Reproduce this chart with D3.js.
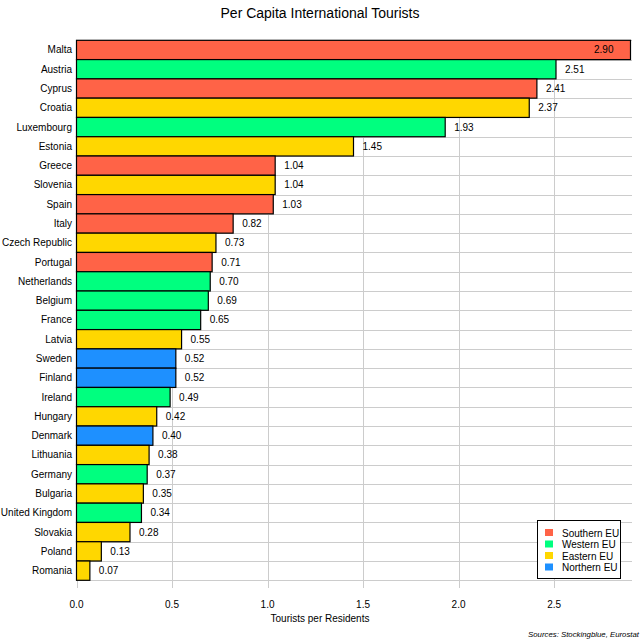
<!DOCTYPE html>
<html>
<head>
<title>per capita international tourists</title>
<style>
  body { margin: 0; background: #fff; }
  svg text { font-family: "Liberation Sans", Arial, sans-serif; fill: #000; }
</style>
</head>
<body>
<svg></svg>
<script src="https://d3js.org/d3.v7.min.js"></script>
<script>
    let width = 640, height = 640;
    let svg = d3.select("svg").attr("width", width).attr("height", height);

    // data
    let countries = ["Malta", "Austria", "Cyprus", "Croatia", "Luxembourg", "Estonia", "Greece", "Slovenia",
        "Spain", "Italy", "Czech Republic", "Portugal", "Netherlands", "Belgium", "France", "Latvia",
        "Sweden", "Finland", "Ireland", "Hungary", "Denmark", "Lithuania", "Germany", "Bulgaria",
        "United Kingdom", "Slovakia", "Poland", "Romania"];
    let values = [2.90, 2.51, 2.41, 2.37, 1.93, 1.45, 1.04, 1.04, 1.03, 0.82, 0.73, 0.71, 0.70, 0.69,
        0.65, 0.55, 0.52, 0.52, 0.49, 0.42, 0.40, 0.38, 0.37, 0.35, 0.34, 0.28, 0.13, 0.07];
    let regions = ["Southern EU", "Western EU", "Southern EU", "Eastern EU", "Western EU", "Eastern EU",
        "Southern EU", "Eastern EU", "Southern EU", "Southern EU", "Eastern EU", "Southern EU",
        "Western EU", "Western EU", "Western EU", "Eastern EU", "Northern EU", "Northern EU",
        "Western EU", "Eastern EU", "Northern EU", "Eastern EU", "Western EU", "Eastern EU",
        "Western EU", "Eastern EU", "Eastern EU", "Eastern EU"];
    let legendNames = ["Southern EU", "Western EU", "Eastern EU", "Northern EU"];
    let legendColors = ["#ff6347", "#00ff7f", "#ffd700", "#1e90ff"];
    let xTicks = [0, 0.5, 1, 1.5, 2, 2.5];

    let rows = countries.map((c, i) => ({ name: c, value: values[i], region: regions[i] }));

    let x = d3.scaleLinear().domain([0, 2.9]).range([76.5, 630.5]);
    let y = d3.scaleBand().domain(countries).range([40.3, 580.3]).padding(0);
    let color = d3.scaleOrdinal().domain(legendNames).range(legendColors);

    // title
    svg.append("text")
        .attr("x", 320).attr("y", 18)
        .attr("text-anchor", "middle")
        .style("font-size", "14px")
        .text("Per Capita International Tourists");

    // grid
    let grid = svg.append("g").attr("stroke", "#cccccc").attr("stroke-width", 1);
    grid.selectAll(".vline")
        .data(xTicks)
        .enter()
        .append("line")
        .attr("x1", d => Math.round(x(d)) + 0.5).attr("x2", d => Math.round(x(d)) + 0.5)
        .attr("y1", 40).attr("y2", 588);
    grid.selectAll(".hline")
        .data(d3.range(countries.length + 1))
        .enter()
        .append("line")
        .attr("x1", 76).attr("x2", 632)
        .attr("y1", d => Math.round(40.3 + d * y.step()) + 0.5)
        .attr("y2", d => Math.round(40.3 + d * y.step()) + 0.5);

    // bars
    svg.append("g")
        .selectAll("rect")
        .data(rows)
        .enter()
        .append("rect")
        .attr("x", x(0))
        .attr("y", d => y(d.name))
        .attr("width", d => x(d.value) - x(0))
        .attr("height", y.bandwidth())
        .attr("fill", d => color(d.region))
        .attr("stroke", "#000")
        .attr("stroke-width", 1.2);

    // value labels
    svg.append("g")
        .selectAll("text")
        .data(rows)
        .enter()
        .append("text")
        .attr("x", d => x(d.value) + 40 > 632 ? x(d.value) - 17 : x(d.value) + 9)
        .attr("text-anchor", d => x(d.value) + 40 > 632 ? "end" : "start")
        .attr("y", d => y(d.name) + y.bandwidth() / 2 + 3.5)
        .style("font-size", "10px")
        .text(d => d.value.toFixed(2));

    // country labels
    svg.append("g")
        .selectAll("text")
        .data(rows)
        .enter()
        .append("text")
        .attr("x", 72)
        .attr("y", d => y(d.name) + y.bandwidth() / 2 + 3.5)
        .attr("text-anchor", "end")
        .style("font-size", "10px")
        .text(d => d.name);

    // x tick labels
    svg.append("g")
        .selectAll("text")
        .data(xTicks)
        .enter()
        .append("text")
        .attr("x", d => x(d))
        .attr("y", 608)
        .attr("text-anchor", "middle")
        .style("font-size", "10px")
        .text(d => d.toFixed(1));

    svg.append("text")
        .attr("x", 320).attr("y", 622)
        .attr("text-anchor", "middle")
        .style("font-size", "10px")
        .text("Tourists per Residents");

    svg.append("text")
        .attr("x", 639).attr("y", 637)
        .attr("text-anchor", "end")
        .style("font-size", "7.8px")
        .style("font-style", "italic")
        .text("Sources: Stockingblue, Eurostat");

    // legend
    let legend = svg.append("g");
    legend.append("rect")
        .attr("x", 537.5).attr("y", 520.5)
        .attr("width", 83).attr("height", 58)
        .attr("fill", "#fff").attr("stroke", "#000").attr("stroke-width", 1);
    let item = legend.selectAll(".item")
        .data(legendNames)
        .enter()
        .append("g")
        .attr("transform", (d, i) => "translate(545," + (529 + i * 11.5) + ")");
    item.append("rect")
        .attr("width", 8).attr("height", 7)
        .attr("fill", d => color(d));
    item.append("text")
        .attr("x", 17).attr("y", 7.5)
        .style("font-size", "10px")
        .text(d => d);
</script>
</body>
</html>
